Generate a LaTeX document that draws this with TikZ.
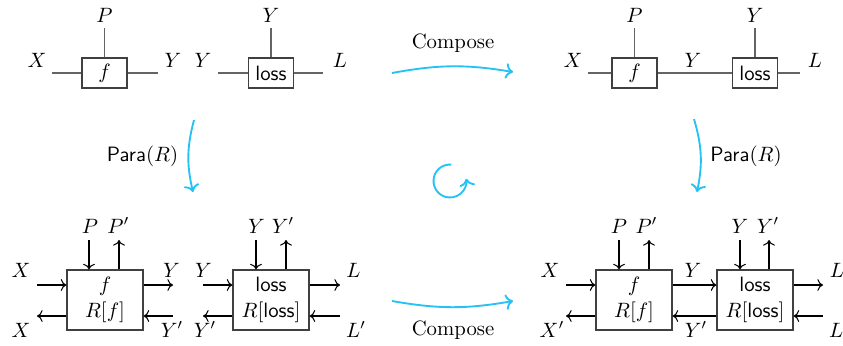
\documentclass[tikz,border=0pt]{standalone}
\usepackage{amsmath}
\usepackage{tikz}
\usetikzlibrary{arrows.meta}
\definecolor{flowcyan}{RGB}{38,194,244}
\definecolor{wiregray}{RGB}{100,100,100}
\tikzset{every picture/.style={line width=.5pt}}

\begin{document}
\begin{tikzpicture}[x=.482pt,y=.482pt,>={To},
 every node/.style={font=\fontsize{10}{12.5}\selectfont},
 lbl/.style={anchor=base,inner sep=0pt},
 wire/.style={draw=wiregray,line width=.6pt},
 smallbox/.style={draw=black!75,line width=.6pt,minimum width=21.7pt,
  minimum height=14.5pt,inner sep=0pt},
 bigbox/.style={draw=black!75,line width=.6pt,minimum width=36.6pt,
  minimum height=28.9pt,inner sep=0pt,align=center},
 flow/.style={->,draw=flowcyan,line width=.9pt}]
 \useasboundingbox (0,0) rectangle (843,345);

 % Two separate string diagrams, top left.
 \node[smallbox] (tf) at (104.5,272) {$f$};
 \node[smallbox] (tl) at (271,272) {\textsf{loss}};
 \coordinate (tfin) at (52,272);
 \coordinate (tfout) at (158,272);
 \coordinate (tfpar) at (104.5,317);
 \coordinate (tlin) at (218,272);
 \coordinate (tlout) at (323,272);
 \coordinate (tlpar) at (271,317);
 \draw[wire] (tfin) -- (tf.west) (tf.east) -- (tfout) (tf.north) -- (tfpar);
 \draw[wire] (tlin) -- (tl.west) (tl.east) -- (tlout) (tl.north) -- (tlpar);
 \node[lbl] (tfx) at (37,278) {$X$};
 \node[lbl] (tfy) at (173,278) {$Y$};
 \node[lbl] (tfp) at (104.5,323) {$P$};
 \node[lbl] (tly) at (203,278) {$Y$};
 \node[lbl] (tll) at (340,278) {$L$};
 \node[lbl] (tlp) at (271,323) {$Y$};

 % The composite, top right.
 \node[smallbox] (cf) at (634.5,272) {$f$};
 \node[smallbox] (cl) at (755,272) {\textsf{loss}};
 \coordinate (cfin) at (588,272);
 \coordinate (clout) at (800,272);
 \coordinate (cfpar) at (634.5,317);
 \coordinate (clpar) at (755,317);
 \draw[wire] (cfin) -- (cf.west) (cf.east) -- (cl.west) (cl.east) -- (clout);
 \draw[wire] (cf.north) -- (cfpar) (cl.north) -- (clpar);
 \node[lbl] (cfx) at (573,278) {$X$};
 \node[lbl] (cmy) at (693,278) {$Y$};
 \node[lbl] (cll) at (815,278) {$L$};
 \node[lbl] (cfp) at (634.5,323) {$P$};
 \node[lbl] (clp) at (755,323) {$Y$};

 % Lenses, bottom left: forward row at 60, backward row at 29.
 \node[bigbox] (bf) at (105,45) {$f$\\$R[f]$};
 \node[bigbox] (bl) at (271,45) {\textsf{loss}\\$R[\textsf{loss}]$};
 \coordinate (bfxin) at (37,60);
 \coordinate (bfxout) at (37,29);
 \coordinate (bfyout) at (173,60);
 \coordinate (bfyin) at (173,29);
 \coordinate (bfp) at (89,105);
 \coordinate (bfq) at (119,105);
 \draw[->] (bfxin) -- (bfxin -| bf.west);
 \draw[->] (bfxout -| bf.west) -- (bfxout);
 \draw[->] (bfyout -| bf.east) -- (bfyout);
 \draw[->] (bfyin) -- (bfyin -| bf.east);
 \draw[->] (bfp) -- (bfp |- bf.north);
 \draw[->] (bfq |- bf.north) -- (bfq);
 \coordinate (blyin) at (203,60);
 \coordinate (blyout) at (203,29);
 \coordinate (bllout) at (340,60);
 \coordinate (bllin) at (340,29);
 \coordinate (blp) at (256,105);
 \coordinate (blq) at (286,105);
 \draw[->] (blyin) -- (blyin -| bl.west);
 \draw[->] (blyout -| bl.west) -- (blyout);
 \draw[->] (bllout -| bl.east) -- (bllout);
 \draw[->] (bllin) -- (bllin -| bl.east);
 \draw[->] (blp) -- (blp |- bl.north);
 \draw[->] (blq |- bl.north) -- (blq);
 \node[lbl] (bfxa) at (21,68) {$X$};
 \node[lbl] (bfxb) at (21,8) {$X$};
 \node[lbl] (bfya) at (171.5,68) {$Y$};
 \node[lbl] (bfyb) at (172,8) {$Y'$};
 \node[lbl] (bfpa) at (90,112) {$P$};
 \node[lbl] (bfpb) at (118.5,112) {$P'$};
 \node[lbl] (blya) at (203.5,68) {$Y$};
 \node[lbl] (blyb) at (205,8) {$Y'$};
 \node[lbl] (blla) at (353.5,68) {$L$};
 \node[lbl] (bllb) at (356,8) {$L'$};
 \node[lbl] (blpa) at (256.5,112) {$Y$};
 \node[lbl] (blpb) at (283,112) {$Y'$};

 % Composite lens, bottom right.
 \node[bigbox] (rf) at (634,45) {$f$\\$R[f]$};
 \node[bigbox] (rl) at (755,45) {\textsf{loss}\\$R[\textsf{loss}]$};
 \coordinate (rfxin) at (566,60);
 \coordinate (rfxout) at (566,29);
 \coordinate (rllout) at (823,60);
 \coordinate (rllin) at (823,29);
 \coordinate (rfp) at (619,105);
 \coordinate (rfq) at (649,105);
 \coordinate (rlp) at (740,105);
 \coordinate (rlq) at (769,105);
 \draw[->] (rfxin) -- (rfxin -| rf.west);
 \draw[->] (rfxout -| rf.west) -- (rfxout);
 \draw[->] (rfxin -| rf.east) -- (rfxin -| rl.west);
 \draw[->] (rfxout -| rl.west) -- (rfxout -| rf.east);
 \draw[->] (rllout -| rl.east) -- (rllout);
 \draw[->] (rllin) -- (rllin -| rl.east);
 \draw[->] (rfp) -- (rfp |- rf.north);
 \draw[->] (rfq |- rf.north) -- (rfq);
 \draw[->] (rlp) -- (rlp |- rl.north);
 \draw[->] (rlq |- rl.north) -- (rlq);
 \node[lbl] (rfxa) at (550,68) {$X$};
 \node[lbl] (rfxb) at (552,8) {$X'$};
 \node[lbl] (rmya) at (693,68) {$Y$};
 \node[lbl] (rmyb) at (696,8) {$Y'$};
 \node[lbl] (rlla) at (837,68) {$L$};
 \node[lbl] (rllb) at (839,8) {$L'$};
 \node[lbl] (rfpa) at (619,112) {$P$};
 \node[lbl] (rfpb) at (646.5,112) {$P'$};
 \node[lbl] (rlpa) at (740,112) {$Y$};
 \node[lbl] (rlpb) at (768,112) {$Y'$};

 % The commuting square.
 \coordinate (tcs) at (392,272);
 \coordinate (tce) at (513,273);
 \coordinate (bcs) at (392,44);
 \coordinate (bce) at (513,44);
 \coordinate (lps) at (194,225);
 \coordinate (lpe) at (193,153);
 \coordinate (rps) at (694,226);
 \coordinate (rpe) at (697,153);
 \draw[flow] (tcs) to[bend left=10] (tce);
 \draw[flow] (bcs) to[bend right=10] (bce);
 \draw[flow] (lps) to[bend right=14] (lpe);
 \draw[flow] (rps) to[bend left=14] (rpe);
 \node[lbl] (tcomp) at (453,297) {Compose};
 \node[lbl] (bcomp) at (453,10) {Compose};
 \node[lbl] (lpara) at (142.5,184) {\textsf{Para}$(R)$};
 \node[lbl] (rpara) at (746,184) {\textsf{Para}$(R)$};
 \draw[flow] (450,164) ++(85:16.5) arc[start angle=85,end angle=368,radius=16.5];
\end{tikzpicture}
\end{document}
